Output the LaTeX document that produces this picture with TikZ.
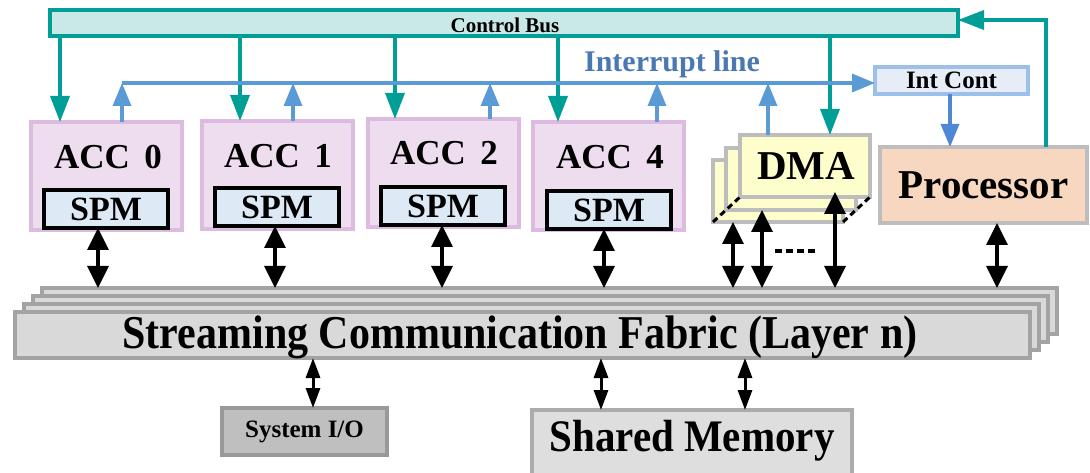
\documentclass[tikz,border=0pt]{standalone}
\usepackage{fontspec}
\setmainfont{Liberation Serif}
\usetikzlibrary{arrows.meta,calc}

\definecolor{busteal}{HTML}{009E96}
\definecolor{busfill}{HTML}{C8E9E8}
\definecolor{irqblue}{HTML}{5B9BD5}
\definecolor{irqtext}{HTML}{4A78B0}
\definecolor{intdown}{HTML}{4F86D6}
\definecolor{intfill}{HTML}{E6EDF7}
\definecolor{intedge}{HTML}{9DC0EA}
\definecolor{accfill}{HTML}{EEDDEF}
\definecolor{accedge}{HTML}{DDBADF}
\definecolor{spmfill}{HTML}{DDE9F5}
\definecolor{dmafill}{HTML}{FEFDCC}
\definecolor{boxedge}{HTML}{BDBDBD}
\definecolor{cpufill}{HTML}{F8D7C0}
\definecolor{fabfill}{HTML}{D9D9D9}
\definecolor{fabedge}{HTML}{A3A3A3}
\definecolor{iofill}{HTML}{BFBFBF}
\definecolor{ioedge}{HTML}{999999}
\definecolor{memfill}{HTML}{DEDEDE}
\definecolor{memedge}{HTML}{ABABAB}

\newcommand{\fs}[1]{\fontsize{#1}{#1}\selectfont\bfseries}

\tikzset{
  blk/.style={anchor=north west, inner sep=0pt, outer sep=0pt, line width=4pt},
  busbox/.style={blk, draw=busteal, fill=busfill, minimum width=908pt, minimum height=26pt},
  accbox/.style={blk, draw=accedge, fill=accfill, minimum width=151pt, minimum height=108pt},
  spmbox/.style={blk, draw=black, line width=4pt, fill=spmfill, minimum width=124pt, minimum height=38pt, font=\fs{34}},
  dmabox/.style={blk, draw=boxedge, fill=dmafill, minimum width=130pt, minimum height=62pt},
  cpubox/.style={blk, draw=boxedge, fill=cpufill, minimum width=207pt, minimum height=76pt, font=\fs{41}},
  intbox/.style={blk, draw=intedge, fill=intfill, minimum width=153pt, minimum height=27pt, font=\fs{25}},
  fabbox/.style={blk, draw=fabedge, fill=fabfill, minimum width=1015pt, minimum height=46pt},
  iobox/.style={blk, draw=ioedge, fill=iofill, minimum width=165pt, minimum height=47pt, font=\fs{25}},
  membox/.style={blk, draw=memedge, fill=memfill, minimum width=320pt, minimum height=70pt},
  lbl/.style={inner sep=0pt, outer sep=0pt},
  tarr/.style={draw=busteal, line width=3.5pt, -{Triangle[width=19pt,length=26pt]}},
  barr/.style={draw=irqblue, line width=3.5pt, -{Triangle[width=18pt,length=23pt]}},
  darr/.style={draw=black, line width=3.5pt, {Triangle[width=21pt,length=22pt]}-{Triangle[width=21pt,length=22pt]}},
  sarr/.style={draw=black, line width=3pt, {Triangle[width=14pt,length=20pt]}-{Triangle[width=14pt,length=20pt]}}
}

\begin{document}
\begin{tikzpicture}[x=1pt,y=-1pt]
\useasboundingbox (0,0) rectangle (1090,473);

% control bus
\node[busbox] (bus) at (50,10) {};
\node[lbl, font=\fs{21}] (buslbl) at (505,25) {Control Bus};

% accelerators with their scratch-pad memories
\node[accbox] (acc0) at (31,122) {};
\node[accbox] (acc1) at (202,121) {};
\node[accbox] (acc2) at (368,119) {};
\node[accbox] (acc4) at (533,122) {};
\node[lbl, font=\fs{35}] (l0) at (108,157) {ACC\, 0};
\node[lbl, font=\fs{35}] (l1) at (278,156) {ACC\, 1};
\node[lbl, font=\fs{35}] (l2) at (444,153) {ACC\, 2};
\node[lbl, font=\fs{35}] (l4) at (610,157) {ACC\, 4};
\node[spmbox] (spm0) at (44,190) {SPM};
\node[spmbox] (spm1) at (215,188) {SPM};
\node[spmbox] (spm2) at (381,187) {SPM};
\node[spmbox] (spm4) at (547,191) {SPM};

% stacked DMA engines
\node[dmabox] (dma3) at (713,160) {};
\node[dmabox] (dma2) at (726,148) {};
\node[dmabox] (dma1) at (740,135) {};
\node[lbl, font=\fs{41}] (dmalbl) at (806,166) {DMA};
\draw[line width=3pt, dash pattern=on 6pt off 4pt] (dma3.south west) -- (dma1.south west);
\draw[line width=3pt, dash pattern=on 6pt off 4pt] (dma3.south east) -- (dma1.south east);

% processor and interrupt controller
\node[cpubox] (cpu) at (880,147) {Processor};
\node[intbox] (intc) at (875,67) {Int Cont};

% streaming fabric layers
\node[fabbox] (fab4) at (42,288) {};
\node[fabbox] (fab3) at (33,296) {};
\node[fabbox] (fab2) at (24,304) {};
\node[fabbox] (fab1) at (15,312) {};
\node[lbl, font=\fs{42}] (fablbl) at (520,337) {\scalebox{1}[1.12]{Streaming Communication Fabric (Layer n)}};

% memory and I/O
\node[iobox] (sysio) at (222,408) {System I/O};
\node[membox] (mem) at (532,410) {};
\node[lbl, font=\fs{41}] (memlbl) at (692,441) {\scalebox{1}[1.1]{Shared Memory}};

% control bus taps
\coordinate (t0) at (60,0);
\coordinate (t1) at (240,0);
\coordinate (t2) at (395,0);
\coordinate (t4) at (558,0);
\coordinate (td) at (830,0);
\draw[tarr] (t0 |- bus.south) -- (t0 |- acc0.north);
\draw[tarr] (t1 |- bus.south) -- (t1 |- acc1.north);
\draw[tarr] (t2 |- bus.south) -- (t2 |- acc2.north);
\draw[tarr] (t4 |- bus.south) -- (t4 |- acc4.north);
\draw[tarr] (td |- bus.south) -- (td |- dma1.north);

% processor drives the control bus
\coordinate (cb) at (1046,20);
\draw[tarr] (cb |- cpu.north) -- (cb) -- (cb -| bus.east);

% interrupt line
\coordinate (irq) at (122,83);
\node[lbl, font=\fs{30}, text=irqtext] (irqlbl) at (672,64) {Interrupt line};
\draw[barr] (irq) -- (irq -| intc.west);
\coordinate (i0) at (122,0);
\coordinate (i1) at (293,0);
\coordinate (i2) at (490,0);
\coordinate (i4) at (657,0);
\coordinate (id) at (768,0);
\draw[barr] (i0 |- acc0.north) -- (i0 |- irq);
\draw[barr] (i1 |- acc1.north) -- (i1 |- irq);
\draw[barr] (i2 |- acc2.north) -- (i2 |- irq);
\draw[barr] (i4 |- acc4.north) -- (i4 |- irq);
\draw[barr] (id |- dma1.north) -- (id |- irq);
\coordinate (ic) at (950,0);
\draw[barr, draw=intdown] (ic |- intc.south) -- (ic |- cpu.north);

% data paths to the fabric
\coordinate (d0) at (98,0);
\coordinate (d1) at (275,0);
\coordinate (d2) at (442,0);
\coordinate (d4) at (604,0);
\coordinate (dm3) at (733,0);
\coordinate (dm2) at (762,0);
\coordinate (dm1) at (835,0);
\coordinate (dp) at (997,0);
\draw[darr] (d0 |- spm0.south) -- (d0 |- fab4.north);
\draw[darr] (d1 |- spm1.south) -- (d1 |- fab4.north);
\draw[darr] (d2 |- spm2.south) -- (d2 |- fab4.north);
\draw[darr] (d4 |- spm4.south) -- (d4 |- fab4.north);
\draw[darr] (dm3 |- dma3.south) -- (dm3 |- fab4.north);
\draw[darr] (dm2 |- dma2.south) -- (dm2 |- fab4.north);
\draw[darr] ($(dm1 |- dma1.south)+(0,-5)$) -- (dm1 |- fab4.north);
\draw[darr] (dp |- cpu.south) -- (dp |- fab4.north);
\coordinate (gapa) at (775,251);
\coordinate (gapb) at (817,251);
\draw[line width=3.5pt, dash pattern=on 7pt off 4pt] (gapa) -- (gapb);

% fabric to memory and I/O
\coordinate (s0) at (313,0);
\coordinate (s1) at (601,0);
\coordinate (s2) at (745,0);
\draw[sarr] (s0 |- fab1.south) -- (s0 |- sysio.north);
\draw[sarr] (s1 |- fab1.south) -- (s1 |- mem.north);
\draw[sarr] (s2 |- fab1.south) -- (s2 |- mem.north);
\end{tikzpicture}
\end{document}
